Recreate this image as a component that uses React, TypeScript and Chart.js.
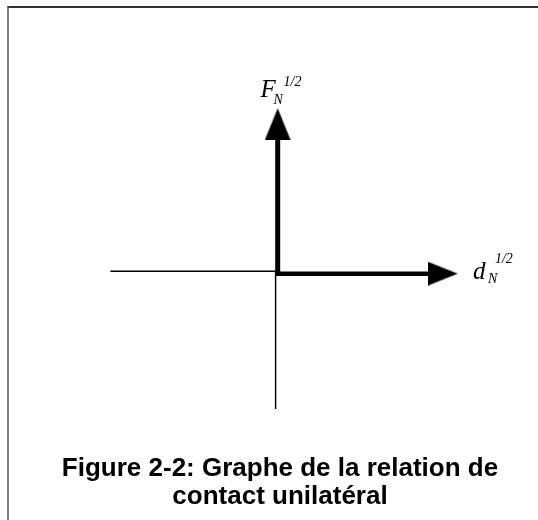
import React, { useEffect, useRef } from 'react';
import { Chart, registerables } from 'chart.js';

Chart.register(...registerables);

// Axis geometry in abstract units (origin = contact point)
const negativeXAxis = [{ x: -17.5, y: 0 }, { x: 0, y: 0 }];
const negativeYAxis = [{ x: 0, y: 0 }, { x: 0, y: -14.6 }];
const forceArrow = [{ x: 0.22, y: -0.47 }, { x: 0.22, y: 15.6 }];
const gapArrow = [{ x: 0, y: -0.25 }, { x: 17.7, y: -0.25 }];

const labelBases = ['F', 'd'];
const labelSubs = ['N', 'N'];
const labelSups = ['1/2', '1/2'];
const labelAnchors = [{ x: -1.6, y: 18.5 }, { x: 20.9, y: -0.8 }];

const captionLines = ['Figure 2-2: Graphe de la relation de', 'contact unilatéral'];

const labelOffsets = [
  { subDx: 13, subDy: 7, supDx: 23, supDy: -11 },
  { subDx: 15, subDy: 4, supDx: 22, supDy: -16 },
];

function makeArrowHead(w: number, h: number) {
  const c = document.createElement('canvas');
  c.width = w;
  c.height = h;
  const g = c.getContext('2d')!;
  g.fillStyle = '#000';
  g.beginPath();
  g.moveTo(w / 2, 0);
  g.lineTo(w, h);
  g.lineTo(0, h);
  g.closePath();
  g.fill();
  return c;
}

const textPlugin = {
  id: 'textPlugin',
  afterDraw(chart: any) {
    const { ctx, scales } = chart;
    const xs = scales.x;
    const ys = scales.y;
    ctx.save();
    ctx.fillStyle = '#000';
    ctx.textBaseline = 'alphabetic';
    ctx.textAlign = 'left';
    labelBases.forEach((b, i) => {
      const px = xs.getPixelForValue(labelAnchors[i].x);
      const py = ys.getPixelForValue(labelAnchors[i].y);
      const o = labelOffsets[i];
      ctx.font = 'italic 25px "Liberation Serif"';
      ctx.fillText(b, px, py);
      ctx.font = 'italic 14px "Liberation Serif"';
      ctx.fillText(labelSubs[i], px + o.subDx, py + o.subDy);
      ctx.fillText(labelSups[i], px + o.supDx, py + o.supDy);
    });
    ctx.font = 'bold 26px "Liberation Sans"';
    ctx.textAlign = 'center';
    captionLines.forEach((t, i) => ctx.fillText(t, 280, 476 + i * 28));
    ctx.restore();
  },
};

export default function App() {
  const ref = useRef<HTMLCanvasElement | null>(null);
  useEffect(() => {
    if (!ref.current) return;
    const vHead = makeArrowHead(26, 32);
    const hHead = makeArrowHead(24, 30);
    const thin = { borderColor: '#000', borderWidth: 1.5, pointRadius: 0, showLine: true, borderCapStyle: 'butt' as const };
    const chart = new Chart(ref.current, {
      type: 'scatter',
      data: {
        datasets: [
          { data: negativeXAxis, ...thin },
          { data: negativeYAxis, ...thin },
          {
            data: forceArrow,
            showLine: true,
            borderColor: '#000',
            backgroundColor: '#000',
            borderWidth: 5,
            borderCapStyle: 'butt',
            pointStyle: (c: any) => (c.dataIndex === 1 ? vHead : 'circle'),
            pointRadius: (c: any) => (c.dataIndex === 1 ? 10 : 0),
            pointRotation: 0,
          } as any,
          {
            data: gapArrow,
            showLine: true,
            borderColor: '#000',
            backgroundColor: '#000',
            borderWidth: 4.5,
            borderCapStyle: 'butt',
            pointStyle: (c: any) => (c.dataIndex === 1 ? hHead : 'circle'),
            pointRadius: (c: any) => (c.dataIndex === 1 ? 10 : 0),
            pointRotation: 90,
          } as any,
        ],
      },
      options: {
        responsive: false,
        maintainAspectRatio: false,
        animation: false,
        devicePixelRatio: 1,
        events: [],
        layout: { padding: 0 },
        plugins: { legend: { display: false }, tooltip: { enabled: false }, title: { display: false } },
        scales: {
          x: { type: 'linear', min: -27.6, max: 26.2, display: false },
          y: { type: 'linear', min: -24.8, max: 27.2, display: false },
        },
      },
      plugins: [textPlugin],
    });
    return () => chart.destroy();
  }, []);

  return (
    <div style={{ position: 'absolute', left: 0, top: 0, width: 538, height: 520, background: '#fff' }}>
      <div
        style={{
          position: 'absolute',
          left: 7,
          top: 6,
          width: 531,
          height: 514,
          borderTop: '2px solid #333',
          borderLeft: '2px solid #7f7f7f',
          boxSizing: 'border-box',
        }}
      />
      <canvas ref={ref} width={538} height={520} style={{ position: 'absolute', left: 0, top: 0 }} />
    </div>
  );
}
